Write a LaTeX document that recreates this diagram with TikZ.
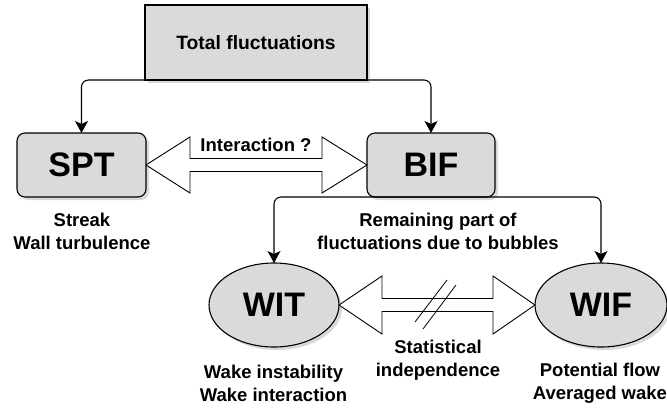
\documentclass[tikz,border=0pt]{standalone}
\usepackage{fontspec}
\setmainfont{Liberation Sans}
\usetikzlibrary{shapes.geometric,arrows.meta,shadows,calc}
\definecolor{boxgray}{HTML}{DADADA}
\begin{document}
\begin{tikzpicture}[x=1pt,y=-1pt,
  lbl/.style={font=\bfseries\fontsize{18.5}{23}\selectfont, align=center, inner sep=0pt},
  big/.style={font=\bfseries\fontsize{34}{40}\selectfont},
  shade/.style={drop shadow={shadow xshift=3pt, shadow yshift=-3pt, fill=black!25, opacity=0.6}},
  rbox/.style={draw, line width=1.1pt, fill=boxgray, rounded corners=8pt, outer sep=0pt, inner sep=0pt, shade},
  ell/.style={draw, line width=1.1pt, fill=boxgray, ellipse, outer sep=0pt, inner sep=0pt, shade},
  conn/.style={line width=1.1pt, rounded corners=7pt, -{Stealth[length=12pt,width=13pt,inset=3pt]}},
  darrow/.style={draw, line width=0.9pt, fill=white, line join=miter},
  slash/.style={line width=0.8pt}]
\useasboundingbox (0,0) rectangle (667,408);
\clip (0,0) rectangle (667,408);

% main nodes
\node[draw, line width=1.1pt, fill=boxgray, outer sep=0pt, inner sep=0pt, shade,
      minimum width=222pt, minimum height=75pt, lbl, font=\bfseries\fontsize{19.3}{23}\selectfont] (total) at (256,42.5) {Total fluctuations};
\node[rbox, big, minimum width=129pt, minimum height=64pt] (spt) at (81.5,165) {SPT};
\node[rbox, big, minimum width=128pt, minimum height=64pt] (bif) at (431,165) {BIF};
\node[ell, big, minimum width=130pt, minimum height=84pt] (wit) at (274,305) {WIT};
\node[ell, big, minimum width=132pt, minimum height=84pt] (wif) at (601,305) {WIF};

% connectors
\draw[conn] (total.south) -| (spt.north);
\draw[conn] (total.south) -| (bif.north);
\draw[conn] (bif.south) -| (wit.north);
\draw[conn] (bif.south) -| (wif.north);

% double arrow SPT <-> BIF
\draw[darrow] (spt.east) -- ++(44,-28) -- ++(0,21.5)
  -- ($(bif.west)+(-45,-6.5)$) -- ++(0,-21.5) -- (bif.west)
  -- ++(-45,28) -- ++(0,-21.5) -- ($(spt.east)+(44,6.5)$) -- ++(0,21.5) -- cycle;

% double arrow WIT <-> WIF
\draw[darrow] (wit.east) -- ++(43,-29) -- ++(0,22.5)
  -- ($(wif.west)+(-42,-6.5)$) -- ++(0,-22.5) -- (wif.west)
  -- ++(-42,29) -- ++(0,-22.5) -- ($(wit.east)+(43,6.5)$) -- ++(0,22.5) -- cycle;

\coordinate (mid) at ($(wit.east)!0.5!(wif.west)$);
\draw[slash] ($(mid)+(-22,17)$) -- ($(mid)+(10,-25)$);
\draw[slash] ($(mid)+(-14,24)$) -- ($(mid)+(19,-20)$);

% labels
\node[lbl] (inter) at (256,145) {Interaction ?};
\node[lbl] (sptlbl) at (82,231) {Streak\\Wall turbulence};
\node[lbl] (biflbl) at (438,231) {Remaining part of\\fluctuations due to bubbles};
\node[lbl] (stat) at (438,360) {Statistical\\independence};
\node[lbl] (witlbl) at (273.5,383) {Wake instability\\Wake interaction};
\node[lbl] (wiflbl) at (600,383) {Potential flow\\Averaged wake};
\end{tikzpicture}
\end{document}
